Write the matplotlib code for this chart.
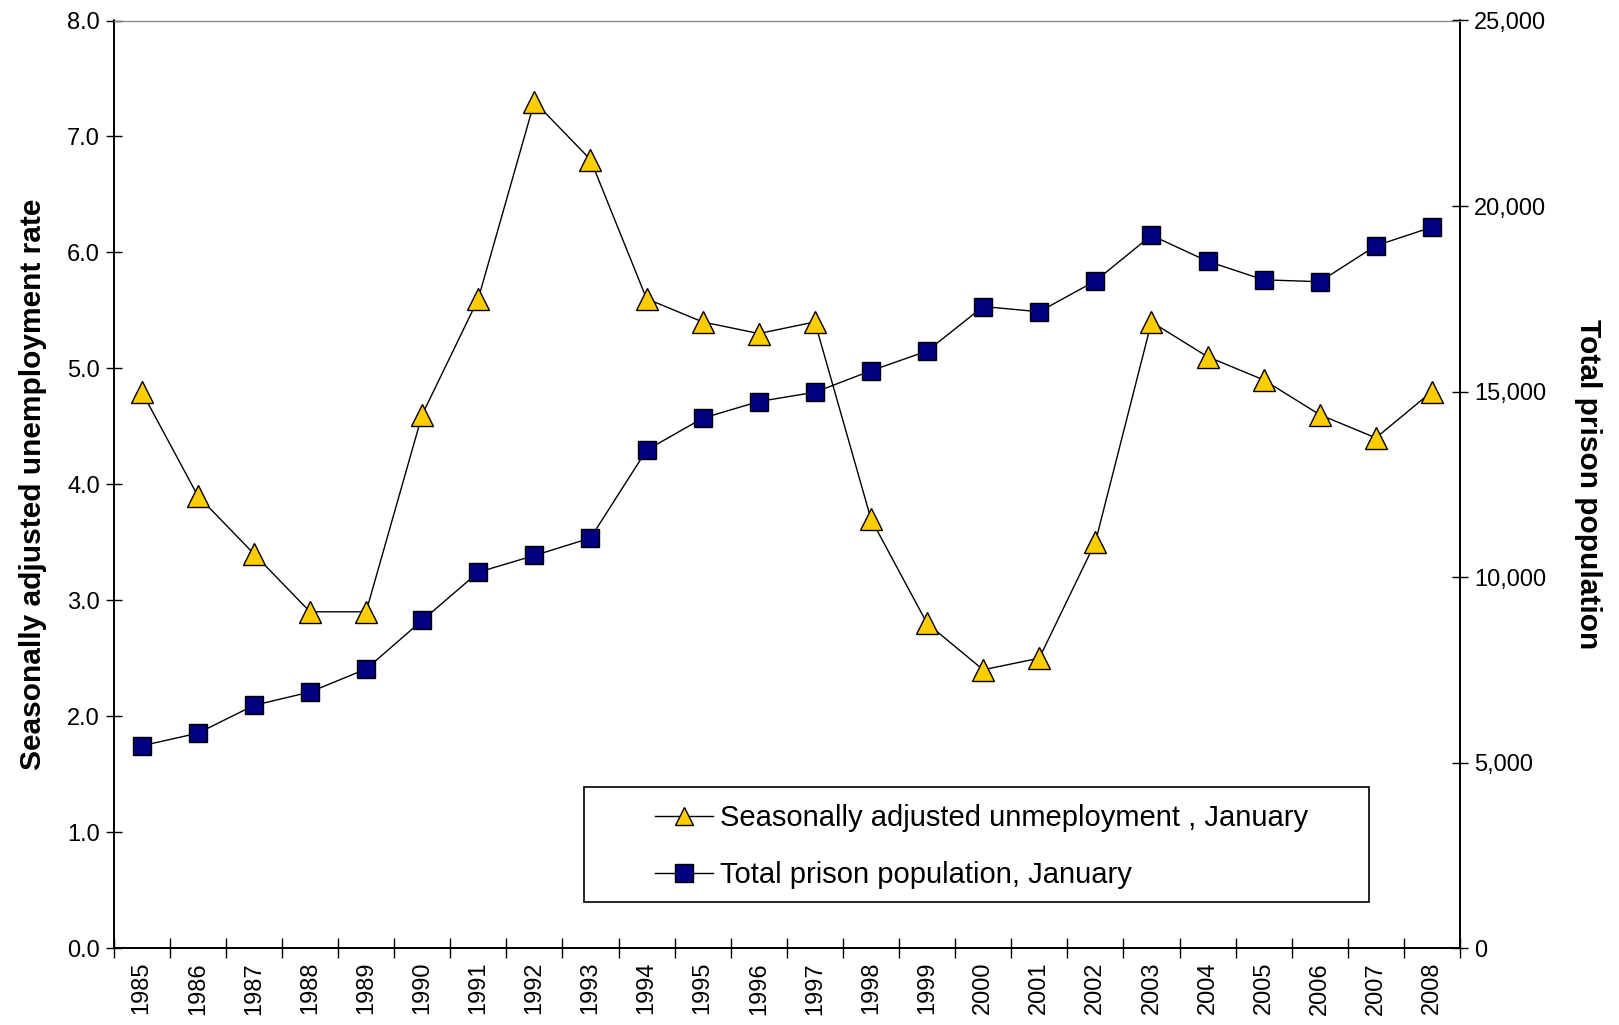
import matplotlib.pyplot as plt
from matplotlib.patches import Rectangle
from matplotlib.ticker import FuncFormatter, MultipleLocator

years = [str(y) for y in range(1985, 2009)]
unemployment = [4.8, 3.9, 3.4, 2.9, 2.9, 4.6, 5.6, 7.3, 6.8, 5.6, 5.4, 5.3,
                5.4, 3.7, 2.8, 2.4, 2.5, 3.5, 5.4, 5.1, 4.9, 4.6, 4.4, 4.8]
prison = [5450, 5790, 6540, 6900, 7520, 8830, 10130, 10580, 11050, 13420,
          14280, 14730, 14980, 15560, 16090, 17290, 17150, 17980, 19210,
          18510, 18010, 17960, 18930, 19430]

plt.rcParams['font.family'] = ['Liberation Sans', 'DejaVu Sans']

fig = plt.figure(figsize=(16.19, 10.25), dpi=100)
ax = fig.add_axes([0.0702, 0.0751, 0.8316, 0.9049])
ax2 = ax.twinx()

x = range(len(years))
l1, = ax.plot(x, unemployment, color='black', lw=1, marker='^', ms=16,
              mfc='#ffcc00', mec='black', mew=1,
              label='Seasonally adjusted unmeployment , January')
l2, = ax2.plot(x, prison, color='black', lw=1, marker='s', ms=13,
               mfc='#000080', mec='black', mew=1,
               label='Total prison population, January')

ax.set_xlim(-0.5, len(years) - 0.5)
ax.set_ylim(0, 8)
ax2.set_ylim(0, 25000)
ax.yaxis.set_major_locator(MultipleLocator(1))
ax.yaxis.set_major_formatter(FuncFormatter(lambda v, p: f'{v:.1f}'))
ax2.yaxis.set_major_locator(MultipleLocator(5000))
ax2.yaxis.set_major_formatter(FuncFormatter(lambda v, p: f'{v:,.0f}'))

# category labels in the middle, tick marks between categories
ax.set_xticks(list(x))
ax.set_xticklabels(years, rotation=90, fontsize=17)
ax.set_xticks([i - 0.5 for i in range(len(years) + 1)], minor=True)
ax.tick_params(axis='x', which='major', length=0, pad=10)
ax.tick_params(axis='x', which='minor', direction='inout', length=14, width=1)
ax.tick_params(axis='y', direction='inout', length=12, width=1, labelsize=17, pad=4)
ax2.tick_params(axis='y', direction='inout', length=12, width=1, labelsize=17, pad=4)

for a in (ax, ax2):
    a.spines['top'].set_color('#808080')
    a.spines['left'].set_linewidth(1.2)
    a.spines['right'].set_linewidth(1.2)
    a.spines['bottom'].set_linewidth(1.2)

ax.set_ylabel('Seasonally adjusted unemployment rate', fontsize=21.5,
              fontweight='bold', labelpad=14)
ax2.set_ylabel('Total prison population', fontsize=21.5, fontweight='bold',
               rotation=270, labelpad=40)

# legend box drawn separately so the entries can sit inset from its left edge
ax.add_patch(Rectangle((0.349, 0.0501), 0.5836, 0.1236, transform=ax.transAxes,
                       facecolor='white', edgecolor='black', lw=1.2, zorder=5))
leg = ax.legend(handles=[l1, l2], loc='upper left',
                bbox_to_anchor=(0.4018, 0.155), frameon=False,
                fontsize=21, labelspacing=1.0, handlelength=2.0,
                handletextpad=0.25, borderpad=0, borderaxespad=0)
leg.set_zorder(6)
for h in leg.legend_handles:
    h.set_markersize(13)

fig.savefig('out.png', dpi=100)
